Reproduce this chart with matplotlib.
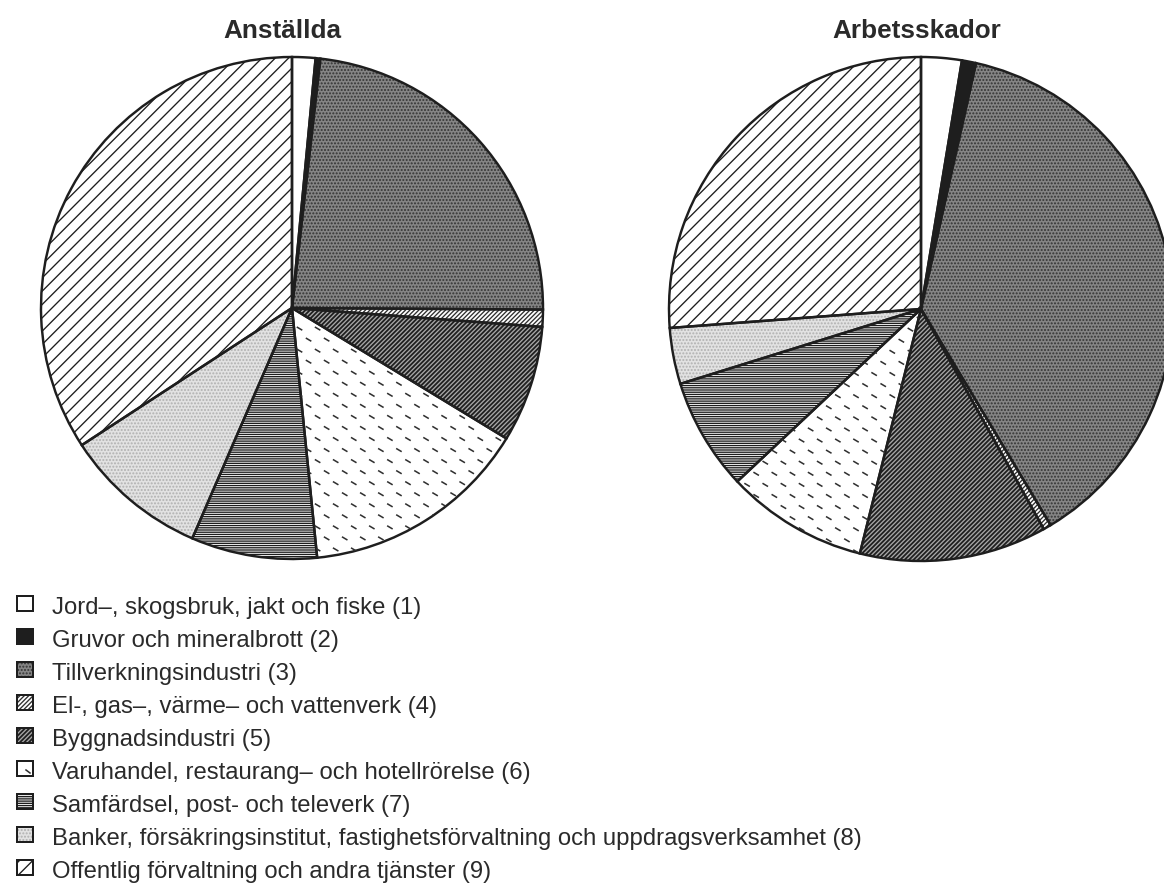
import numpy as np
import matplotlib
matplotlib.use("Agg")
import matplotlib.pyplot as plt
from matplotlib.patches import Rectangle
from matplotlib.collections import LineCollection

plt.rcParams['font.family'] = ['Liberation Sans', 'DejaVu Sans']
plt.rcParams['hatch.linewidth'] = 1.2

# data (percent)
labels = [
    "Jord–, skogsbruk, jakt och fiske (1)",
    "Gruvor och mineralbrott (2)",
    "Tillverkningsindustri (3)",
    "El-, gas–, värme– och vattenverk (4)",
    "Byggnadsindustri (5)",
    "Varuhandel, restaurang– och hotellrörelse (6)",
    "Samfärdsel, post- och televerk (7)",
    "Banker, försäkringsinstitut, fastighetsförvaltning och uppdragsverksamhet (8)",
    "Offentlig förvaltning och andra tjänster (9)",
]
anstallda = [1.5, 0.3, 23.3, 1.1, 7.5, 14.7, 8.1, 9.3, 34.2]
arbetsskador = [2.6, 0.9, 37.9, 0.5, 12.0, 9.1, 7.2, 3.6, 26.2]
titles = ["Anställda", "Arbetsskador"]

# fill styles per sector: facecolor, hatch, hatch colour
styles = [
    ('white', '', 'white'),
    ('#1e1e1e', '', '#1e1e1e'),
    ('#858585', '....', '#333333'),
    ('white', '//////', '#303030'),
    ('#1f1f1f', '//////', '#a8a8a8'),
    ('white', None, '#303030'),   # dashes drawn separately
    ('white', '------', '#1e1e1e'),
    ('#e2e2e2', '....', '#b0b0b0'),
    ('white', '//', '#1e1e1e'),
]

DPI = 80
W, H = 1164, 892
fig = plt.figure(figsize=(W / DPI, H / DPI), dpi=DPI, facecolor='white')

LIM = 1.02


def add_dashes(ax, wedge):
    # short slanted dashes, clipped to the sector
    segs = []
    dx, dy = 0.072, 0.044
    hx, hy = 0.011, -0.0065
    for j, y in enumerate(np.arange(-1.05, 1.05, dy)):
        off = (j % 2) * dx / 2
        for x in np.arange(-1.05, 1.05, dx):
            cx = x + off
            segs.append([(cx - hx, y - hy), (cx + hx, y + hy)])
    lc = LineCollection(segs, colors='#303030', linewidths=1.4)
    ax.add_collection(lc)
    lc.set_clip_path(wedge)


def draw_pie(center, radius, values, title, title_x):
    cx, cy = center
    half = radius * LIM
    ax = fig.add_axes([(cx - half) / W, (H - cy - half) / H, 2 * half / W, 2 * half / H])
    wedges, _ = ax.pie(values, startangle=90, counterclock=False, radius=1,
                       wedgeprops=dict(linewidth=0))
    for w, (fc, hatch, hc) in zip(wedges, styles):
        w.set_facecolor(fc)
        w.set_edgecolor(hc)
        if hatch:
            w.set_hatch(hatch)
    add_dashes(ax, wedges[5])
    ax.pie(values, startangle=90, counterclock=False, radius=1,
           wedgeprops=dict(facecolor='none', edgecolor='#1e1e1e', linewidth=2.2))
    ax.set_xlim(-LIM, LIM)
    ax.set_ylim(-LIM, LIM)
    ax.axis('off')
    fig.text(title_x / W, 1 - 38 / H, title, ha='center', va='baseline',
             fontsize=23.5, fontweight='bold', color='#2a2a2a')
    return ax


draw_pie((292, 308), 251, anstallda, titles[0], 282)
draw_pie((921, 309), 252, arbetsskador, titles[1], 917)

# legend: filled/hatched square, then its outline, then the label
for i, (lab, (fc, hatch, hc)) in enumerate(zip(labels, styles)):
    base = 614 + i * 33
    xy = (17 / W, 1 - (base - 3) / H)
    fill = Rectangle(xy, 16 / W, 15 / H, transform=fig.transFigure,
                     facecolor=fc, edgecolor=hc, linewidth=0,
                     hatch=hatch if hatch else None)
    box = Rectangle(xy, 16 / W, 15 / H, transform=fig.transFigure,
                    facecolor='none', edgecolor='#1e1e1e', linewidth=1.8)
    fig.patches.extend([fill, box])
    if hatch is None:
        fig.lines.append(plt.Line2D([26 / W, 30 / W], [1 - (base - 9) / H, 1 - (base - 6) / H],
                                    transform=fig.transFigure, color='#303030', lw=1.4))
    fig.text(52 / W, 1 - base / H, lab, ha='left', va='baseline',
             fontsize=21.5, color='#2a2a2a')

fig.savefig('out.png', dpi=DPI, facecolor='white')
